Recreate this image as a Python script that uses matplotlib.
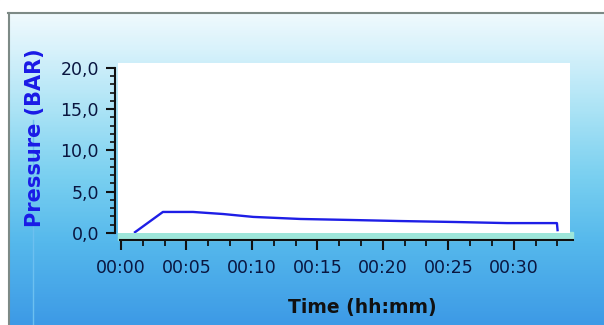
import matplotlib
matplotlib.use('Agg')
import matplotlib.pyplot as plt
import numpy as np
from matplotlib.colors import LinearSegmentedColormap
from matplotlib.patches import Rectangle
from matplotlib.ticker import FixedLocator, MultipleLocator, FuncFormatter

# pressure trace, time in minutes
time_min = [1.07, 3.2, 5.5, 7.8, 10.1, 13.7, 17.5, 21.3, 25.6, 29.5, 33.3, 33.35]
pressure_bar = [0.1, 2.55, 2.55, 2.3, 1.95, 1.7, 1.58, 1.45, 1.33, 1.2, 1.2, 0.35]

time_ticks = [0, 5, 10, 15, 20, 25, 30]
pressure_ticks = [0, 5, 10, 15, 20]

W, H = 604, 325
fig = plt.figure(figsize=(W / 100, H / 100), dpi=100)

# background gradient
bg = fig.add_axes([0, 0, 1, 1], zorder=-10)
bg.set_axis_off()
cmap = LinearSegmentedColormap.from_list(
    'bg', [(0, '#f8fcfe'), (0.15, '#d8f2fb'), (0.35, '#a8e2f5'),
           (0.55, '#78cff0'), (0.75, '#55b8ec'), (1, '#3d9ae6')])
grad = np.linspace(0, 1, 325).reshape(-1, 1)
bg.imshow(grad, aspect='auto', cmap=cmap, extent=[0, W, H, 0])
bg.set_xlim(0, W)
bg.set_ylim(H, 0)
# white margin + grey frame
bg.add_patch(Rectangle((0, 0), W, 12, color='white', zorder=2))
bg.add_patch(Rectangle((0, 0), 8, H, color='white', zorder=2))
bg.plot([8, W], [13, 13], color='#7d8a86', lw=1.5, zorder=3)
bg.plot([8.5, 8.5], [13, H], color='#7d8a86', lw=1.5, zorder=3)
bg.plot([33, 33], [120, H], color='#6cc0f0', lw=1, zorder=3)
# teal strip between plot and time axis
bg.add_patch(Rectangle((118, 232), 455, 8, color='#9de6da', zorder=1))

ax = fig.add_axes([118 / W, 92 / H, 452 / W, 170 / H])
ax.set_facecolor('white')
ax.plot(time_min, pressure_bar, color='#1e1ee6', lw=1.7)
ax.set_xlim(-0.23, 34.3)
ax.set_ylim(0, 20.6)

for s in ['top', 'right']:
    ax.spines[s].set_visible(False)
ax.spines['left'].set_position(('outward', 2.2))
ax.spines['bottom'].set_position(('outward', 5.0))
ax.spines['left'].set_bounds(0, 20)
ax.spines['bottom'].set_bounds(-0.1, 34.5)
ax.spines['left'].set_color('#111111')
ax.spines['bottom'].set_color('#111111')
ax.spines['left'].set_linewidth(1.5)
ax.spines['bottom'].set_linewidth(1.5)

ax.xaxis.set_major_locator(FixedLocator(time_ticks))
ax.xaxis.set_minor_locator(MultipleLocator(5 / 3))
ax.xaxis.set_major_formatter(FuncFormatter(lambda v, p: '00:%02d' % int(round(v))))
ax.yaxis.set_major_locator(FixedLocator(pressure_ticks))
ax.yaxis.set_minor_locator(MultipleLocator(1))
ax.yaxis.set_major_formatter(FuncFormatter(lambda v, p: ('%.1f' % v).replace('.', ',')))

ax.tick_params(axis='x', which='major', length=7, width=1.5, pad=7,
               labelsize=12.5, labelcolor='#0a1640', color='#111111')
ax.tick_params(axis='x', which='minor', length=4, width=1.3, color='#111111')
ax.tick_params(axis='y', which='major', length=6.5, width=1.5, pad=5,
               labelsize=12.5, labelcolor='#0a1640', color='#111111')
ax.tick_params(axis='y', which='minor', length=3.5, width=1.2, color='#111111')

fig.text(35 / W, 1 - 138 / H, 'Pressure (BAR)', rotation=90, ha='center', va='center',
         fontsize=15, fontweight='bold', color='#1a1ae6')
fig.text(362 / W, 1 - 308 / H, 'Time (hh:mm)', ha='center', va='center',
         fontsize=13.5, fontweight='bold', color='#111111')

fig.savefig('out.png', dpi=100)
